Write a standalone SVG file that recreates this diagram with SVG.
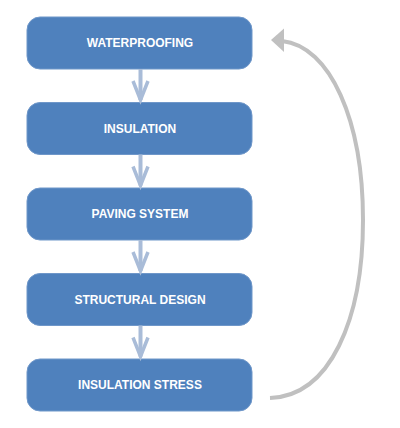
<svg xmlns="http://www.w3.org/2000/svg" width="400" height="428" viewBox="0 0 400 428">
<style>
.box{fill:#4f81bd;stroke:#6f97c9;stroke-width:1}
.lbl{font-family:"Liberation Sans",Arial,sans-serif;font-weight:bold;font-size:12px;fill:#ffffff;text-anchor:middle;dominant-baseline:central}
.dn{stroke:#a9bcd8;stroke-width:4;fill:none}
.dnh{stroke:#a9bcd8;stroke-width:3.5;fill:none;stroke-linejoin:miter}
</style>
<rect width="400" height="428" fill="#ffffff"/>
<g id="n1"><rect class="box" x="27" y="17" width="225" height="52" rx="13"/><text class="lbl" x="140" y="43">WATERPROOFING</text></g>
<g id="n2"><rect class="box" x="27" y="102.5" width="225" height="52" rx="13"/><text class="lbl" x="140" y="128.5">INSULATION</text></g>
<g id="n3"><rect class="box" x="27" y="188" width="225" height="52" rx="13"/><text class="lbl" x="140" y="214">PAVING SYSTEM</text></g>
<g id="n4"><rect class="box" x="27" y="273.5" width="225" height="52" rx="13"/><text class="lbl" x="140" y="299.5">STRUCTURAL DESIGN</text></g>
<g id="n5"><rect class="box" x="27" y="359" width="225" height="52" rx="13"/><text class="lbl" x="140" y="385">INSULATION STRESS</text></g>
<g id="connectors">
<path class="dn" d="M140.5 69 V100"/><path class="dnh" d="M133 81 L140.5 100 L148 81"/>
<path class="dn" d="M140.5 154.5 V185.5"/><path class="dnh" d="M133 166.5 L140.5 185.5 L148 166.5"/>
<path class="dn" d="M140.5 240 V271"/><path class="dnh" d="M133 252 L140.5 271 L148 252"/>
<path class="dn" d="M140.5 325.5 V356.5"/><path class="dnh" d="M133 337.5 L140.5 356.5 L148 337.5"/>
<path d="M270 398 C330 396 363 320 363 220 C363 120 330 46 282 41" fill="none" stroke="#c0c0c0" stroke-width="4"/>
<polygon points="271,40 284,28.5 284,52" fill="#c0c0c0"/>
</g>
</svg>
